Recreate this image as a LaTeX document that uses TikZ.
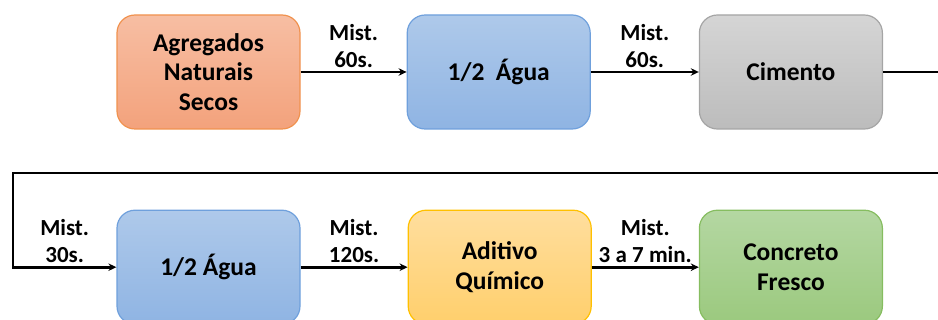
\documentclass[tikz,border=0pt]{standalone}
\usepackage{fontspec}
\setmainfont{Carlito}
\usepackage{tikz}
\usetikzlibrary{shapes,arrows.meta,positioning}

\definecolor{laranjaA}{HTML}{F7BEA3}
\definecolor{laranjaB}{HTML}{F3A27C}
\definecolor{laranjaC}{HTML}{F0924F}
\definecolor{azulA}{HTML}{AEC9EA}
\definecolor{azulB}{HTML}{8FB4E3}
\definecolor{azulC}{HTML}{6FA0DC}
\definecolor{cinzaA}{HTML}{D5D5D5}
\definecolor{cinzaB}{HTML}{BCBCBC}
\definecolor{cinzaC}{HTML}{A5A5A5}
\definecolor{amareloA}{HTML}{FFDE9E}
\definecolor{amareloB}{HTML}{FFCF6C}
\definecolor{amareloC}{HTML}{FFC000}
\definecolor{verdeA}{HTML}{B4D7A2}
\definecolor{verdeB}{HTML}{9BC97E}
\definecolor{verdeC}{HTML}{86BD60}

\begin{document}
\begin{tikzpicture}[x=1pt,y=-1pt,
  etapa/.style={rectangle, rounded corners=18pt, line width=1.2pt,
    minimum width=183pt, minimum height=114pt, align=center,
    font=\fontsize{25.5}{29.5}\selectfont\bfseries},
  fluxo/.style={line width=2.7pt, -{Stealth[length=8pt,width=7.5pt]}},
  tempo/.style={above, align=center, inner sep=3pt,
    font=\fontsize{23}{27}\selectfont\bfseries}]
\useasboundingbox (0,0) rectangle (938,320);

\node (agregados) [etapa, draw=laranjaC, top color=laranjaA, bottom color=laranjaB] at (208.5,72) {Agregados\\Naturais\\Secos};
\node (agua1) [etapa, draw=azulC, top color=azulA, bottom color=azulB, right=106pt of agregados] {1/2\ \ Água};
\node (cimento) [etapa, draw=cinzaC, top color=cinzaA, bottom color=cinzaB, right=108pt of agua1] {Cimento};
\node (agua2) [etapa, draw=azulC, top color=azulA, bottom color=azulB, below=80pt of agregados] {1/2 Água};
\node (aditivo) [etapa, draw=amareloC, top color=amareloA, bottom color=amareloB, right=107pt of agua2] {Aditivo\\Químico};
\node (concreto) [etapa, draw=verdeC, top color=verdeA, bottom color=verdeB, right=107pt of aditivo] {Concreto\\Fresco};

\coordinate (retorno) at (946,173);
\coordinate (volta) at (13,173);

\draw[fluxo] (agregados) -- node[tempo] {Mist.\\60s.} (agua1);
\draw[fluxo] (agua1) -- node[tempo] {Mist.\\60s.} (cimento);
\draw[fluxo] (cimento.east) -- (cimento.east -| retorno) -- (retorno) -- (volta) |- node[tempo, pos=0.75] {Mist.\\30s.} (agua2.west);
\draw[fluxo] (agua2) -- node[tempo] {Mist.\\120s.} (aditivo);
\draw[fluxo] (aditivo) -- node[tempo] {Mist.\\3 a 7 min.} (concreto);
\end{tikzpicture}
\end{document}
